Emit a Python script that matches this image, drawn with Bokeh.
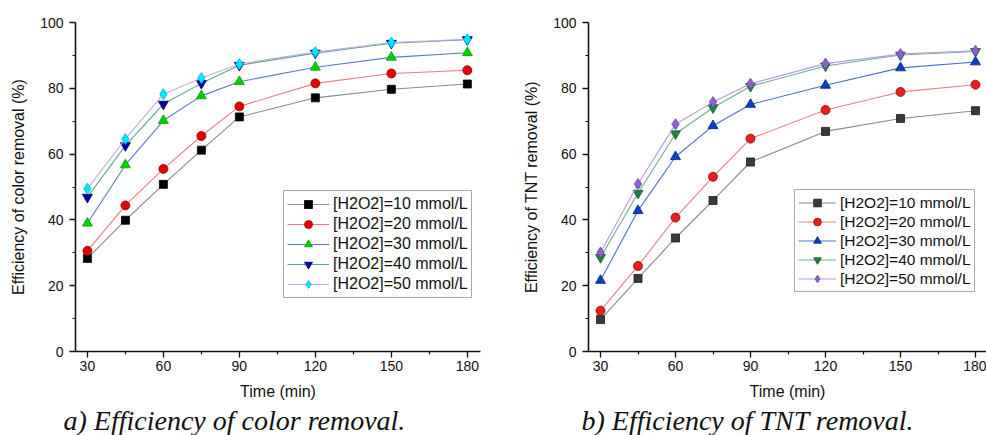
from bokeh.plotting import figure
from bokeh.layouts import row
from bokeh.models import FixedTicker, Legend, LegendItem, Title, Range1d
from bokeh.embed import file_html
from bokeh.resources import INLINE

# ---- data ----
time = [30, 45, 60, 75, 90, 120, 150, 180]
x_major = [30, 60, 90, 120, 150, 180]
x_minor = [45, 75, 105, 135, 165]
y_major = [0, 20, 40, 60, 80, 100]
y_minor = [10, 30, 50, 70, 90]
labels = ["[H2O2]=10 mmol/L", "[H2O2]=20 mmol/L", "[H2O2]=30 mmol/L",
          "[H2O2]=40 mmol/L", "[H2O2]=50 mmol/L"]

color_10 = [28.3, 39.9, 50.8, 61.2, 71.3, 77.1, 79.7, 81.3]
color_20 = [30.6, 44.4, 55.5, 65.5, 74.5, 81.5, 84.5, 85.5]
color_30 = [39.0, 56.7, 70.2, 77.7, 82.0, 86.4, 89.4, 90.8]
color_40 = [46.9, 62.6, 75.2, 81.5, 87.0, 90.7, 93.7, 94.8]
color_50 = [49.5, 64.6, 78.2, 83.1, 87.4, 91.0, 93.9, 94.9]

tnt_10 = [9.7, 22.2, 34.5, 45.9, 57.6, 66.9, 70.8, 73.2]
tnt_20 = [12.4, 26.0, 40.7, 53.1, 64.7, 73.4, 78.9, 81.1]
tnt_30 = [21.6, 42.8, 59.2, 68.6, 75.1, 80.9, 86.2, 88.0]
tnt_40 = [28.6, 48.1, 66.2, 74.1, 80.6, 86.8, 90.1, 91.2]
tnt_50 = [30.1, 50.9, 69.1, 75.8, 81.4, 87.5, 90.4, 91.4]

SANS = "Liberation Sans"
SERIF = "Liberation Serif"

markers = ["square", "circle", "triangle", "inverted_triangle", "diamond"]
sizes = [8, 9, 10, 10, 11]

left_styles = [  # line color, fill, marker edge
    ("#8a8a8a", "#000000", "#000000"),
    ("#e88080", "#e00000", "#a00000"),
    ("#5a7cc4", "#00d000", "#00a000"),
    ("#5aaa80", "#0000a0", "#000070"),
    ("#c8a8e8", "#00e8ff", "#00b8d0"),
]
right_styles = [
    ("#8a8a8a", "#3a3a3a", "#1a1a1a"),
    ("#e88080", "#e82020", "#a00000"),
    ("#4a72c4", "#1040c0", "#002080"),
    ("#6ab488", "#208040", "#106030"),
    ("#b898e4", "#9060d0", "#6a40a8"),
]


def make_panel(series, styles, ylabel, caption, xr, w, h, min_left, min_right,
               min_top, legend_loc, leg_font, leg_row, leg_glyph_w, cap_offset):
    p = figure(output_backend="svg", toolbar_location=None,
               width=w, height=h,
               x_range=Range1d(*xr), y_range=Range1d(0, 100),
               min_border_left=min_left, min_border_right=min_right,
               min_border_top=min_top, min_border_bottom=0,
               background_fill_color="white", border_fill_color="white")
    p.outline_line_color = None
    p.grid.visible = False

    for ax in (p.xaxis[0], p.yaxis[0]):
        ax.axis_line_width = 1.6
        ax.axis_line_color = "#111111"
        ax.major_tick_line_color = "#111111"
        ax.minor_tick_line_color = "#111111"
        ax.major_tick_line_width = 1.3
        ax.minor_tick_line_width = 1.2
        ax.major_tick_out = 6
        ax.major_tick_in = 0
        ax.minor_tick_out = 3
        ax.minor_tick_in = 0
        ax.major_label_text_font = SANS
        ax.major_label_text_font_size = "14px"
        ax.major_label_text_color = "#111111"
        ax.axis_label_text_font = SANS
        ax.axis_label_text_font_size = "16px"
        ax.axis_label_text_font_style = "normal"
        ax.axis_label_text_color = "#111111"

    p.xaxis[0].ticker = FixedTicker(ticks=x_major, minor_ticks=x_minor)
    p.yaxis[0].ticker = FixedTicker(ticks=y_major, minor_ticks=y_minor)
    p.xaxis[0].major_label_standoff = 3
    p.yaxis[0].major_label_standoff = 6
    p.xaxis[0].axis_label = "Time (min)"
    p.xaxis[0].axis_label_standoff = 9
    p.yaxis[0].axis_label = ylabel
    p.yaxis[0].axis_label_standoff = 10

    items = []
    for ys, (lc, fc, ec), mk, sz, lab in zip(series, styles, markers, sizes, labels):
        lr = p.line(time, ys, line_color=lc, line_width=1.1)
        mr = p.scatter(time, ys, marker=mk, size=sz, fill_color=fc,
                       line_color=ec, line_width=0.8)
        items.append(LegendItem(label=lab, renderers=[lr, mr]))

    leg = Legend(items=items, location=legend_loc,
                 label_text_font=SANS, label_text_font_size=leg_font,
                 label_text_color="#111111",
                 glyph_width=leg_glyph_w, glyph_height=leg_row,
                 label_height=leg_row, spacing=0, padding=3, margin=0,
                 label_standoff=4,
                 border_line_color="#555555", border_line_width=1,
                 background_fill_color="white", background_fill_alpha=1)
    p.add_layout(leg, "center")

    cap = Title(text=caption, align="left", offset=cap_offset,
                text_font=SERIF, text_font_style="italic",
                text_font_size="28px", text_color="#111111", standoff=0)
    p.add_layout(cap, "below")
    return p


p1 = make_panel([color_10, color_20, color_30, color_40, color_50], left_styles,
                "Efficiency of color removal (%)", "a) Efficiency of color removal.",
                (25.3, 185.2), 500, 435, 75, 20, 20, (208, 53), "16px", 20, 42, -12)
p2 = make_panel([tnt_10, tnt_20, tnt_30, tnt_40, tnt_50], right_styles,
                "Efficiency of TNT removal (%)", "b) Efficiency of TNT removal.",
                (25.2, 184.4), 486, 435, 88, 0, 22, (206, 59), "15.5px", 19, 38, -7)

layout = row(p1, p2)
open("out.html", "w").write(file_html(layout, INLINE))
